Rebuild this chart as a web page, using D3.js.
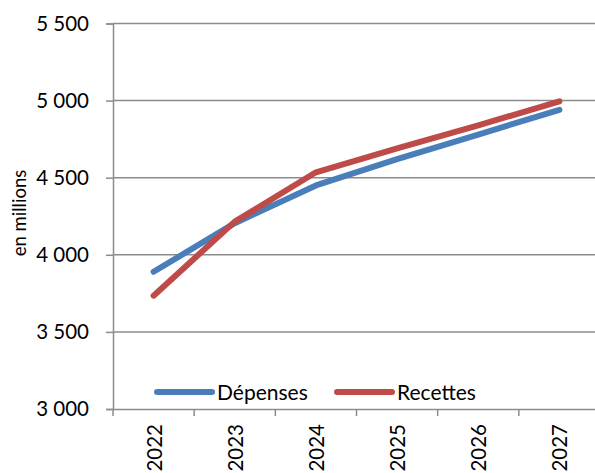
<!DOCTYPE html>
<html><head><meta charset="utf-8">
<script src="https://cdn.jsdelivr.net/npm/d3@7"></script>
<style>
body{margin:0;background:#fff;}
svg{display:block;}
text{font-family:Lato,"Open Sans",sans-serif;fill:#000;}
</style></head>
<body><svg id="c" width="595" height="473"></svg>
<script>
const years = ["2022","2023","2024","2025","2026","2027"];
const depenses = [3890, 4205, 4450, 4620, 4780, 4940];
const recettes = [3735, 4215, 4535, 4690, 4840, 4995];
const yTicks = [3000, 3500, 4000, 4500, 5000, 5500];
const seriesNames = ["Dépenses", "Recettes"];
const seriesColors = ["#4a7ebb", "#be4b48"];

const svg = d3.select("#c");
const L = 113, R = 600, T = 23.5, B = 409;
const x = d3.scaleBand().domain(years).range([L, R]);
const y = d3.scaleLinear().domain([3000, 5500]).range([B, T]);
const fmt = v => d3.format(",")(v).replace(",", " ");
const grid = "#8c8c8c";

// gridlines
svg.append("g").selectAll("line").data(yTicks.slice(1)).join("line")
  .attr("x1", L).attr("x2", 595).attr("y1", d => y(d)).attr("y2", d => y(d))
  .attr("stroke", grid).attr("stroke-width", 1.5);

// y axis
const ya = svg.append("g").attr("transform", `translate(${L},0)`)
  .call(d3.axisLeft(y).tickValues(yTicks).tickFormat(fmt).tickSize(7).tickPadding(17));
ya.select(".domain").attr("stroke", grid).attr("stroke-width", 1.5);
ya.selectAll(".tick line").attr("stroke", grid).attr("stroke-width", 1.5);
ya.selectAll("text").attr("font-size", 20.5).attr("font-family", "Lato").attr("fill", "#000");

// x axis
const xa = svg.append("g").attr("transform", `translate(0,${B})`)
  .call(d3.axisBottom(x).tickSize(0).tickSizeOuter(0));
xa.select(".domain").attr("stroke", grid).attr("stroke-width", 1.5);
xa.selectAll("text").remove();
xa.selectAll(".tick line").remove();
svg.append("g").selectAll("line").data(d3.range(years.length + 1)).join("line")
  .attr("x1", i => L + i * x.step()).attr("x2", i => L + i * x.step())
  .attr("y1", B).attr("y2", B + 7).attr("stroke", grid).attr("stroke-width", 1.5);
svg.append("g").selectAll("text").data(years).join("text")
  .attr("transform", d => `translate(${x(d) + x.bandwidth() / 2 + 8},424) rotate(-90)`)
  .attr("text-anchor", "end").attr("font-size", 20.5).text(d => d);

// y label
svg.append("text").attr("transform", "translate(26,213) rotate(-90)")
  .attr("text-anchor", "middle").attr("font-size", 18.5).text("en millions");

// lines
const line = d3.line().x((d, i) => x(years[i]) + x.bandwidth() / 2).y(d => y(d));
[depenses, recettes].forEach((s, k) => {
  svg.append("path").datum(s).attr("d", line).attr("fill", "none")
    .attr("stroke", seriesColors[k]).attr("stroke-width", 6)
    .attr("stroke-linecap", "round").attr("stroke-linejoin", "round");
});

// legend
const lg = svg.append("g");
const lx = [157, 337];
seriesNames.forEach((n, k) => {
  lg.append("line").attr("x1", lx[k]).attr("x2", lx[k] + 55).attr("y1", 392).attr("y2", 392)
    .attr("stroke", seriesColors[k]).attr("stroke-width", 6).attr("stroke-linecap", "round");
  lg.append("text").attr("x", lx[k] + 60).attr("y", 399.5).attr("font-size", 21).text(n);
});
</script></body></html>
